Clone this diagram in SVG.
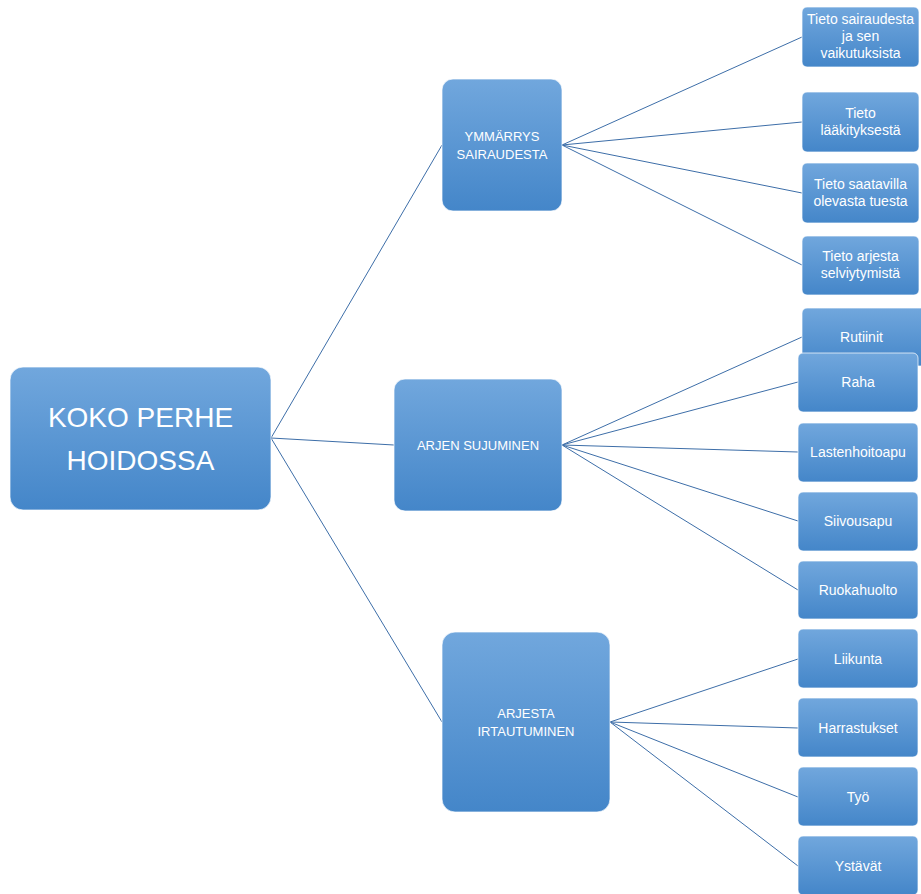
<svg xmlns="http://www.w3.org/2000/svg" width="921" height="894" viewBox="0 0 921 894">
  <defs>
    <linearGradient id="g" x1="0" y1="0" x2="0" y2="1">
      <stop offset="0" stop-color="#71a7dd"/>
      <stop offset="1" stop-color="#4486c9"/>
    </linearGradient>
  </defs>
  <style>
    .box { fill: url(#g); stroke: #ffffff; stroke-opacity: 0.7; stroke-width: 1; }
    .t { fill: #ffffff; font-family: "Liberation Sans", Arial, sans-serif; text-anchor: middle; }
    .leaf { font-size: 14px; }
    .mid { font-size: 13px; }
    .root { font-size: 28px; }
    .c { stroke: #3d6ea8; stroke-width: 1; fill: none; }
  </style>
  <rect width="921" height="894" fill="#ffffff"/>

  <g id="connectors">
    <line class="c" x1="271" y1="438" x2="442" y2="145"/>
    <line class="c" x1="271" y1="438" x2="394" y2="445"/>
    <line class="c" x1="271" y1="438" x2="442" y2="722"/>

    <line class="c" x1="562" y1="145" x2="802" y2="37"/>
    <line class="c" x1="562" y1="145" x2="802" y2="122"/>
    <line class="c" x1="562" y1="145" x2="802" y2="193"/>
    <line class="c" x1="562" y1="145" x2="802" y2="265"/>

    <line class="c" x1="562" y1="445" x2="802" y2="337"/>
    <line class="c" x1="562" y1="445" x2="798" y2="382"/>
    <line class="c" x1="562" y1="445" x2="798" y2="452"/>
    <line class="c" x1="562" y1="445" x2="798" y2="521"/>
    <line class="c" x1="562" y1="445" x2="798" y2="590"/>

    <line class="c" x1="610" y1="722" x2="798" y2="659"/>
    <line class="c" x1="610" y1="722" x2="798" y2="728"/>
    <line class="c" x1="610" y1="722" x2="798" y2="797"/>
    <line class="c" x1="610" y1="722" x2="798" y2="866"/>
  </g>

  <g id="root">
    <rect class="box" x="10" y="367" width="261" height="143" rx="13"/>
    <text class="t root" x="140.5" y="427">KOKO PERHE</text>
    <text class="t root" x="140.5" y="470">HOIDOSSA</text>
  </g>

  <g id="ymmarrys">
    <rect class="box" x="442" y="79" width="120" height="132" rx="11"/>
    <text class="t mid" x="502" y="141">YMMÄRRYS</text>
    <text class="t mid" x="502" y="159">SAIRAUDESTA</text>
  </g>

  <g id="arjen">
    <rect class="box" x="394" y="379" width="168" height="132" rx="11"/>
    <text class="t mid" x="478" y="450">ARJEN SUJUMINEN</text>
  </g>

  <g id="arjesta">
    <rect class="box" x="442" y="632" width="168" height="180" rx="13"/>
    <text class="t mid" x="526" y="718">ARJESTA</text>
    <text class="t mid" x="526" y="736">IRTAUTUMINEN</text>
  </g>

  <g id="tieto-sairaudesta">
    <rect class="box" x="802" y="7" width="117" height="60" rx="5"/>
    <text class="t leaf" x="860.5" y="24">Tieto sairaudesta</text>
    <text class="t leaf" x="860.5" y="41">ja sen</text>
    <text class="t leaf" x="860.5" y="58">vaikutuksista</text>
  </g>

  <g id="tieto-laakityksesta">
    <rect class="box" x="802" y="92" width="117" height="60" rx="5"/>
    <text class="t leaf" x="860.5" y="118">Tieto</text>
    <text class="t leaf" x="860.5" y="135">lääkityksestä</text>
  </g>

  <g id="tieto-tuesta">
    <rect class="box" x="802" y="163" width="117" height="60" rx="5"/>
    <text class="t leaf" x="860.5" y="189">Tieto saatavilla</text>
    <text class="t leaf" x="860.5" y="206">olevasta tuesta</text>
  </g>

  <g id="tieto-arjesta">
    <rect class="box" x="802" y="236" width="117" height="59" rx="5"/>
    <text class="t leaf" x="860.5" y="261">Tieto arjesta</text>
    <text class="t leaf" x="860.5" y="278">selviytymistä</text>
  </g>

  <g id="rutiinit">
    <rect class="box" x="802" y="308" width="124" height="58" rx="5"/>
    <text class="t leaf" x="861.5" y="342">Rutiinit</text>
  </g>

  <g id="raha">
    <rect class="box" x="798" y="353" width="120" height="59" rx="5"/>
    <text class="t leaf" x="858" y="387">Raha</text>
  </g>

  <g id="lastenhoitoapu">
    <rect class="box" x="798" y="423" width="120" height="59" rx="5"/>
    <text class="t leaf" x="858" y="457">Lastenhoitoapu</text>
  </g>

  <g id="siivousapu">
    <rect class="box" x="798" y="492" width="120" height="59" rx="5"/>
    <text class="t leaf" x="858" y="526">Siivousapu</text>
  </g>

  <g id="ruokahuolto">
    <rect class="box" x="798" y="561" width="120" height="58" rx="5"/>
    <text class="t leaf" x="858" y="595">Ruokahuolto</text>
  </g>

  <g id="liikunta">
    <rect class="box" x="798" y="629" width="120" height="59" rx="5"/>
    <text class="t leaf" x="858" y="664">Liikunta</text>
  </g>

  <g id="harrastukset">
    <rect class="box" x="798" y="698" width="120" height="59" rx="5"/>
    <text class="t leaf" x="858" y="733">Harrastukset</text>
  </g>

  <g id="tyo">
    <rect class="box" x="798" y="767" width="120" height="59" rx="5"/>
    <text class="t leaf" x="858" y="802">Työ</text>
  </g>

  <g id="ystavat">
    <rect class="box" x="798" y="836" width="120" height="59" rx="5"/>
    <text class="t leaf" x="858" y="871">Ystävät</text>
  </g>
</svg>
